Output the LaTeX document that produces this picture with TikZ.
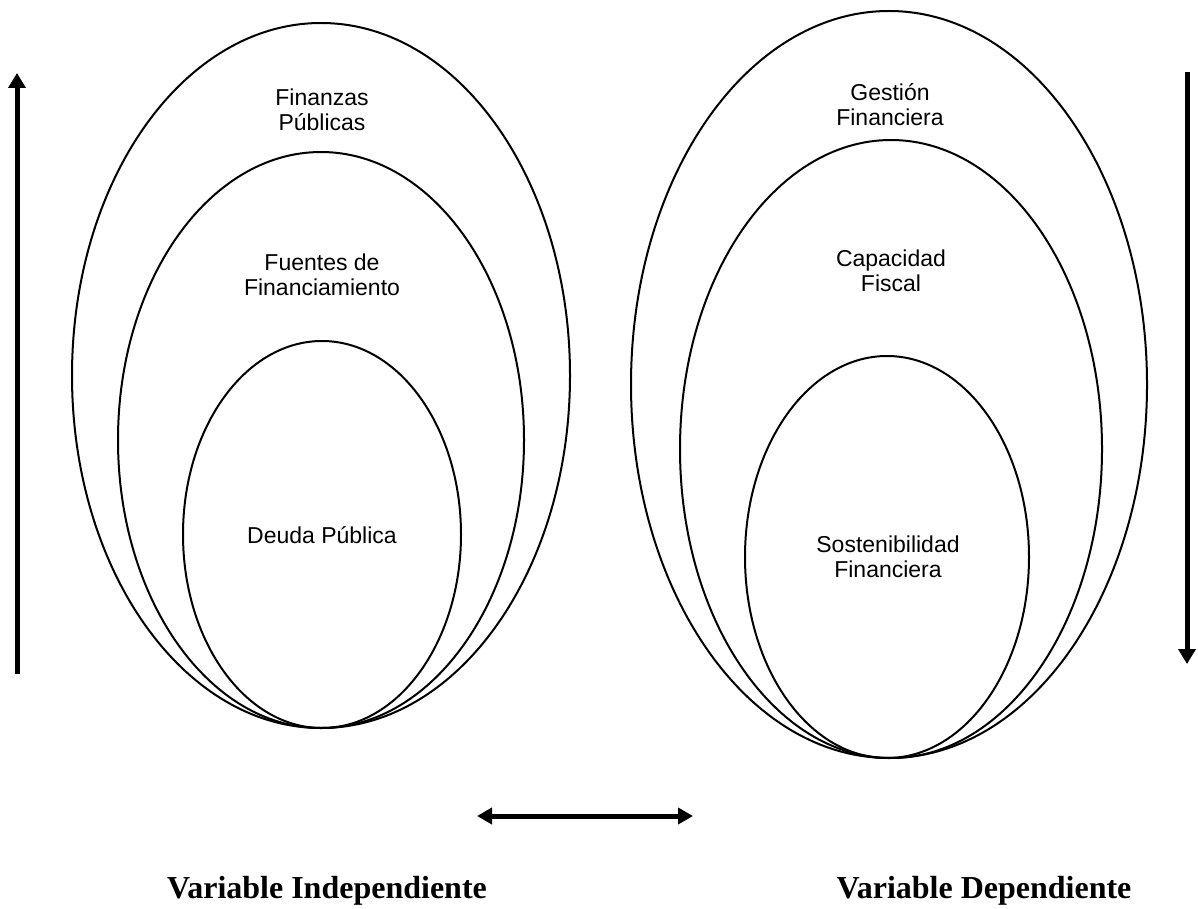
\documentclass[tikz,border=0pt]{standalone}
\usepackage{fontspec}
\setmainfont{Liberation Sans}
\newfontfamily\varfont{Liberation Serif}
\usetikzlibrary{arrows.meta}
\tikzset{
  ring/.style={line width=2pt},
  lbl/.style={align=center, inner sep=0pt, font=\fontsize{23}{25}\selectfont},
  varlbl/.style={anchor=base, inner sep=0pt, font=\varfont\bfseries\fontsize{32}{36}\selectfont},
  bigarrow/.style={line width=5pt, -{Triangle[length=15pt,width=17pt]}},
  twoarrow/.style={line width=5pt, {Triangle[length=15pt,width=16pt]}-{Triangle[length=15pt,width=16pt]}}
}
\begin{document}
\begin{tikzpicture}[x=1pt,y=-1pt]
    \useasboundingbox (0,0) rectangle (1198,909);
    \draw [ring] (321,375.5) ellipse (249 and 352.5);
    \draw [ring] (321,440) ellipse (203 and 288);
    \draw [ring] (322,534.5) ellipse (139 and 193.5);
    \draw [ring] (889,384.5) ellipse (258 and 373.5);
    \draw [ring] (891,449) ellipse (211 and 309);
    \draw [ring] (887,557) ellipse (142 and 201);
    \node [lbl] (finanzas) at (322,110) {Finanzas\\Públicas};
    \node [lbl] (fuentes) at (322,275) {Fuentes de\\Financiamiento};
    \node [lbl] (deuda) at (322,535) {Deuda Pública};
    \node [lbl] (gestion) at (890,104.5) {Gestión\\Financiera};
    \node [lbl] (capacidad) at (891,270.5) {Capacidad\\Fiscal};
    \node [lbl] (sosten) at (888,556.5) {Sostenibilidad\\Financiera};
    \coordinate (upfoot) at (17,674);
    \coordinate (uptip) at (17,73);
    \coordinate (downfoot) at (1187,72);
    \coordinate (downtip) at (1187,664);
    \coordinate (linkL) at (477,816);
    \coordinate (linkR) at (693,816);
    \draw [bigarrow] (upfoot) -- (uptip);
    \draw [bigarrow] (downfoot) -- (downtip);
    \draw [twoarrow] (linkL) -- (linkR);
    \node [varlbl] (indep) at (327,898) {Variable Independiente};
    \node [varlbl] (dep) at (984,898) {Variable Dependiente};
\end{tikzpicture}
\end{document}
